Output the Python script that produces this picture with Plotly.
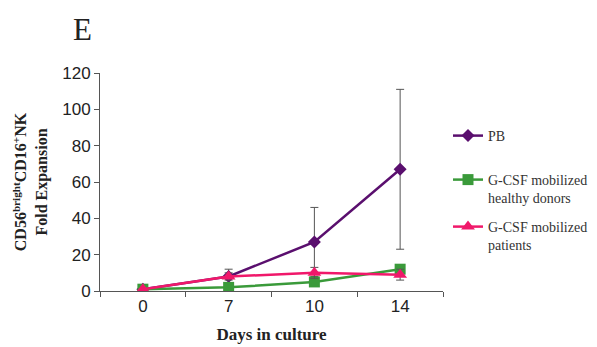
import plotly.graph_objects as go

days = ["0", "7", "10", "14"]
pb = [1, 8, 27, 67]
pb_err = [0.5, 4, 19, 44]
hd = [1, 2, 5, 12]
hd_err = [0.3, 0.5, 1, 2]
pt = [1, 8, 10, 9]
pt_err = [0.3, 2, 3, 3]

fig = go.Figure()
err_style = dict(type="data", thickness=1, width=4, color="#555555")
fig.add_trace(go.Scatter(x=days, y=pb, name="PB", mode="lines+markers",
                         line=dict(color="#5A0F6E", width=2.5),
                         marker=dict(symbol="diamond", size=10, color="#5A0F6E"),
                         error_y=dict(array=pb_err, **err_style), legend="legend"))
fig.add_trace(go.Scatter(x=days, y=hd, name="G-CSF mobilized<br>healthy donors", mode="lines+markers",
                         line=dict(color="#3A9A3A", width=2.5),
                         marker=dict(symbol="square", size=11, color="#3A9A3A"),
                         error_y=dict(array=hd_err, **err_style), legend="legend2"))
fig.add_trace(go.Scatter(x=days, y=pt, name="G-CSF mobilized<br>patients", mode="lines+markers",
                         line=dict(color="#F0186A", width=2.5),
                         marker=dict(symbol="triangle-up", size=12, color="#F0186A"),
                         error_y=dict(array=pt_err, **err_style), legend="legend3"))

# page has an 8px body margin; figure is sized/margined to compensate
W, H = 589, 339
L, T = 92, 65
PW, PH = 343, 218


def px(xp):
    return (xp - 8 - L) / PW


def py(yp):
    return (T + PH - (yp - 8)) / PH


leg_common = dict(xanchor="left", yanchor="middle", valign="top", itemwidth=30,
                  font=dict(family="Liberation Serif", size=14, color="#333333"),
                  bgcolor="rgba(0,0,0,0)")

fig.update_layout(
    width=W, height=H,
    margin=dict(l=L, r=W - L - PW, t=T, b=H - T - PH, autoexpand=False),
    paper_bgcolor="white", plot_bgcolor="white",
    font=dict(family="Liberation Serif", color="#222222"),
    showlegend=True,
    legend=dict(x=px(448), y=py(136), **leg_common),
    legend2=dict(x=px(448), y=py(189), **leg_common),
    legend3=dict(x=px(448), y=py(236), **leg_common),
    xaxis=dict(type="category", range=[-0.5, 3.5], showline=True, linecolor="#555555", linewidth=1,
               ticks="outside", ticklen=5, tickcolor="#555555", showgrid=False,
               tickson="boundaries", automargin=False,
               tickfont=dict(family="Liberation Sans", size=17, color="#222222"),
               title=dict(text="<b>Days in culture</b>", font=dict(family="Liberation Serif", size=17),
                          standoff=12)),
    yaxis=dict(range=[0, 120], dtick=20, showline=True, linecolor="#555555", linewidth=1,
               ticks="outside", ticklen=5, tickcolor="#555555", showgrid=False, zeroline=False,
               automargin=False,
               tickfont=dict(family="Liberation Sans", size=17, color="#222222"),
               title=dict(text="<b>CD56<sup>bright</sup>CD16<sup>+</sup>NK<br>Fold Expansion</b>",
                          font=dict(family="Liberation Serif", size=16), standoff=10)),
    annotations=[dict(text="E", xref="paper", yref="paper", x=px(82), y=py(30),
                      xanchor="center", yanchor="middle", showarrow=False,
                      font=dict(family="Liberation Serif", size=31, color="#222222"))],
)
fig.write_html("out.html")
